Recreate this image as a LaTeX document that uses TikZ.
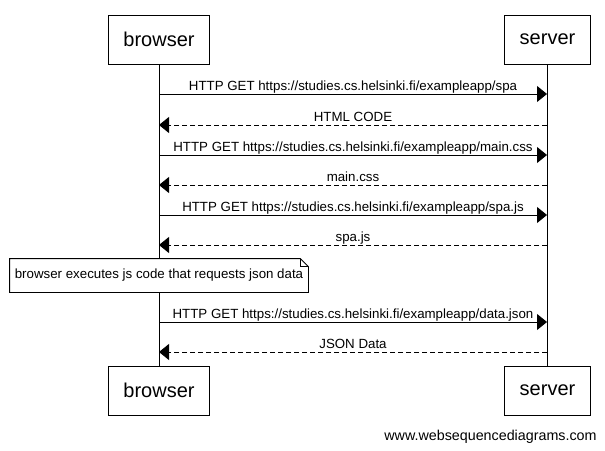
\documentclass[tikz,border=0pt]{standalone}
\usepackage{fontspec}
\setmainfont{Liberation Sans}
\usetikzlibrary{positioning, arrows.meta}

\begin{document}
\begin{tikzpicture}[x=1pt, y=-1pt, line width=0.8pt]
    \tikzstyle{actor}=[rectangle, draw, minimum height=49pt, inner xsep=15pt, font=\fontsize{20}{24}\selectfont]
    \tikzstyle{msg}=[-{Triangle[length=10pt, width=16pt]}]
    \tikzstyle{reply}=[msg, dash pattern=on 5pt off 3pt]
    \tikzstyle{lbl}=[anchor=base, yshift=3.5pt, inner sep=0, font=\fontsize{13.3}{15}\selectfont]
    \tikzstyle{notebox}=[fill=white, minimum width=298pt, minimum height=33pt, inner sep=0, font=\fontsize{13.3}{15}\selectfont]

    \useasboundingbox (0,0) rectangle (605,450);

    \node[actor] (b) at (159,39.5) {browser};
    \node[actor] (s) at (547.5,39.5) {server};
    \node[actor] (b2) at (159,390.5) {browser};
    \node[actor] (s2) at (547.5,390.5) {server};

    % lifelines
    \draw (b.south) -- (b2.north);
    \draw (s.south -| 547,0) -- (s2.north -| 547,0);

    % rows of the messages
    \foreach \y [count=\i] in {94,125,155,185,215,245,322,352} {
        \coordinate (bl\i) at (159,\y);
        \coordinate (sl\i) at (547,\y);
    }

    \draw[msg] (bl1) -- node[lbl] {HTTP GET https://studies.cs.helsinki.fi/exampleapp/spa} (sl1);
    \draw[reply] (sl2) -- node[lbl] {HTML CODE} (bl2);
    \draw[msg] (bl3) -- node[lbl] {HTTP GET https://studies.cs.helsinki.fi/exampleapp/main.css} (sl3);
    \draw[reply] (sl4) -- node[lbl] {main.css} (bl4);
    \draw[msg] (bl5) -- node[lbl] {HTTP GET https://studies.cs.helsinki.fi/exampleapp/spa.js} (sl5);
    \draw[reply] (sl6) -- node[lbl] {spa.js} (bl6);

    % the note
    \node[notebox] (n) at (159,275.5) {browser executes js code that requests json data};
    \draw (n.north west) -- ([xshift=-8pt]n.north east) -- ([yshift=-8pt]n.north east)
        -- (n.south east) -- (n.south west) -- cycle;
    \draw ([xshift=-8pt]n.north east) -- ([xshift=-8pt, yshift=-8pt]n.north east) -- ([yshift=-8pt]n.north east);

    \draw[msg] (bl7) -- node[lbl] {HTTP GET https://studies.cs.helsinki.fi/exampleapp/data.json} (sl7);
    \draw[reply] (sl8) -- node[lbl] {JSON Data} (bl8);

    \node[anchor=base east, inner sep=0, font=\fontsize{14.3}{16}\selectfont] (wsd) at (597,440) {www.websequencediagrams.com};
\end{tikzpicture}
\end{document}
